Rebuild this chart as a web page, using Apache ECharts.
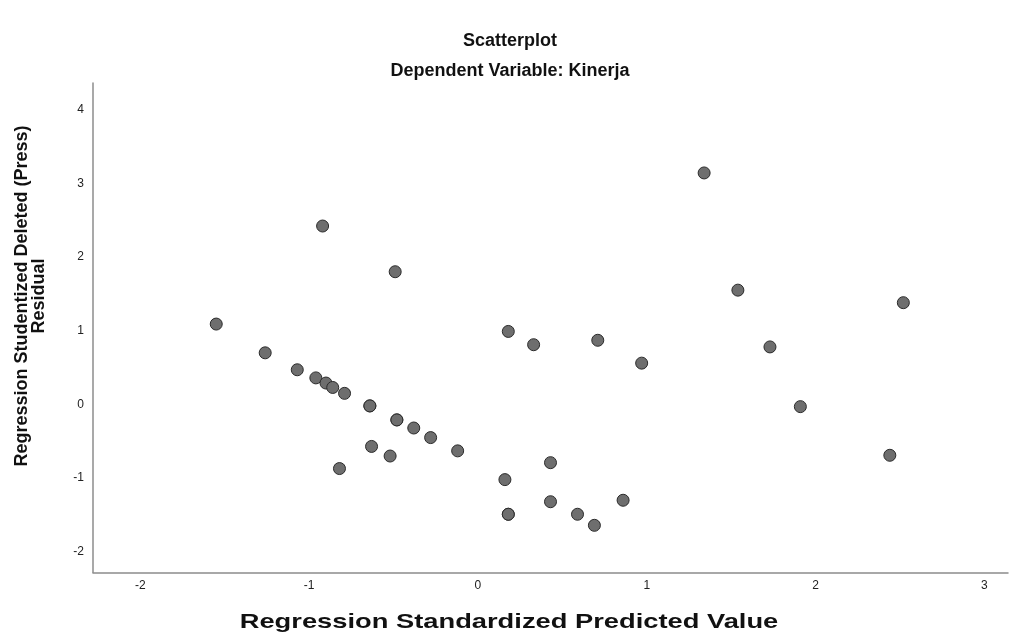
<!DOCTYPE html>
<html>
<head>
<meta charset="utf-8">
<script src="https://cdn.jsdelivr.net/npm/echarts@6/dist/echarts.min.js"></script>
<style>
html,body{margin:0;padding:0;background:#fff;}
#chart{width:1019px;height:639px;}
</style>
</head>
<body>
<div id="chart"></div>
<script>
// Regression Standardized Predicted Value
var predicted = [-1.55, -1.26, -1.07, -0.96, -0.90, -0.86, -0.79, -0.64, -0.64, -0.48, -0.48, -0.38, -0.28, -0.12, -0.63, -0.52, -0.82, -0.92, -0.49, 0.18, 0.33, 0.71, 0.97, 0.43, 0.16, 0.43, 0.86, 0.18, 0.18, 0.59, 0.69, 1.34, 1.54, 2.52, 1.73, 1.91, 2.44];
// Regression Studentized Deleted (Press) Residual
var residual = [1.09, 0.70, 0.47, 0.36, 0.29, 0.23, 0.15, -0.02, -0.02, -0.21, -0.21, -0.32, -0.45, -0.63, -0.57, -0.70, -0.87, 2.42, 1.80, 0.99, 0.81, 0.87, 0.56, -0.79, -1.02, -1.32, -1.30, -1.49, -1.49, -1.49, -1.64, 3.14, 1.55, 1.38, 0.78, -0.03, -0.69];
var xTicks = [-2, -1, 0, 1, 2, 3];
var yTicks = [-2, -1, 0, 1, 2, 3, 4];
var chartTitle = 'Scatterplot';
var chartSubtitle = 'Dependent Variable: Kinerja';
var xTitle = 'Regression Standardized Predicted Value';
var yTitle = 'Regression Studentized Deleted (Press)\nResidual';

var points = predicted.map(function (v, i) { return [v, residual[i]]; });
var font = '"Liberation Sans", Arial, sans-serif';

var chart = echarts.init(document.getElementById('chart'), null, {renderer: 'canvas'});
chart.setOption({
  backgroundColor: '#ffffff',
  animation: false,
  grid: {left: 93, right: 11, top: 83, bottom: 66.5, containLabel: false},
  xAxis: {
    type: 'value', min: -2.28, max: 3.14,
    axisLine: {show: true, onZero: false, lineStyle: {color: '#8c8c8c', width: 1.5}},
    axisTick: {show: false},
    splitLine: {show: false},
    axisLabel: {customValues: xTicks, color: '#222', fontSize: 12, fontFamily: font, margin: 7}
  },
  yAxis: {
    type: 'value', min: -2.28, max: 4.36,
    axisLine: {show: true, onZero: false, lineStyle: {color: '#8c8c8c', width: 1.5}},
    axisTick: {show: false},
    splitLine: {show: false},
    axisLabel: {customValues: yTicks, color: '#222', fontSize: 12, fontFamily: font, margin: 9}
  },
  graphic: [
    {type: 'text', x: 510, y: 41, style: {text: chartTitle, font: 'bold 18px ' + font, fill: '#111', align: 'center', verticalAlign: 'middle'}},
    {type: 'text', x: 510, y: 71, style: {text: chartSubtitle, font: 'bold 18px ' + font, fill: '#111', align: 'center', verticalAlign: 'middle'}},
    {type: 'text', x: 509, y: 622, scaleX: 1.3, style: {text: xTitle, font: 'bold 21px ' + font, fill: '#111', align: 'center', verticalAlign: 'middle'}},
    {type: 'text', x: 31, y: 296, rotation: Math.PI / 2, style: {text: yTitle, font: 'bold 18px ' + font, fill: '#111', align: 'center', verticalAlign: 'middle', lineHeight: 17}}
  ],
  series: [{
    type: 'scatter',
    data: points,
    symbol: 'circle',
    symbolSize: 12,
    itemStyle: {color: '#6e6e6e', borderColor: '#2b2b2b', borderWidth: 1, opacity: 1}
  }]
});
</script>
</body>
</html>
